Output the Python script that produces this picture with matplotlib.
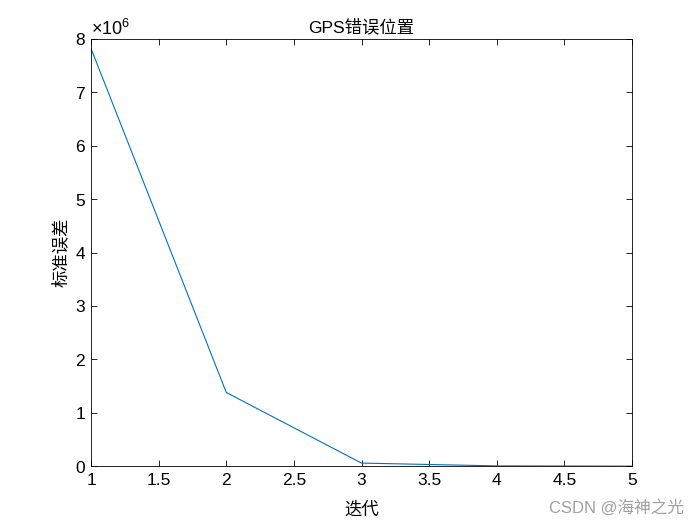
import matplotlib.pyplot as plt
from matplotlib.ticker import ScalarFormatter

plt.rcParams['font.family'] = ['Liberation Sans', 'Noto Sans CJK SC', 'DejaVu Sans']
plt.rcParams['mathtext.fontset'] = 'custom'
plt.rcParams['mathtext.rm'] = 'Liberation Sans'

# 数据
iters = [1, 2, 3, 4, 5]
std_err = [7.82e6, 1.38e6, 0.058e6, 0.006e6, 0.001e6]

fig = plt.figure(figsize=(7, 5.25), dpi=100)
ax = fig.add_axes([0.13, 0.112, 0.773, 0.814])
ax.plot(iters, std_err, color='#0072BD', linewidth=0.8)

ax.set_xlim(1, 5)
ax.set_ylim(0, 8e6)
ax.set_xticks([1, 1.5, 2, 2.5, 3, 3.5, 4, 4.5, 5])
ax.set_xticklabels(['1', '1.5', '2', '2.5', '3', '3.5', '4', '4.5', '5'])

fmt = ScalarFormatter(useMathText=True)
fmt.set_powerlimits((0, 0))
ax.yaxis.set_major_formatter(fmt)
ax.yaxis.get_offset_text().set_fontsize(13)

ax.tick_params(direction='in', top=True, right=True, labelsize=12.5, length=4, width=0.6)
ax.tick_params(axis='x', pad=5)
for s in ax.spines.values():
    s.set_linewidth(0.6)

cjk = ['Noto Sans CJK SC', 'DejaVu Sans']
ax.set_title('GPS错误位置', fontsize=12.5, family=['Liberation Sans', 'Noto Sans CJK SC'], pad=5)
ax.set_xlabel('迭代', fontsize=12.5, family=cjk, labelpad=9)
ax.set_ylabel('标准误差', fontsize=12.5, family=cjk, labelpad=4)

fig.text(0.977, 0.018, 'CSDN @海神之光', ha='right', va='bottom', fontsize=12,
         color='#a0a0a0', family=['Liberation Sans', 'Noto Sans CJK SC'])

fig.savefig('out.png', dpi=100)
